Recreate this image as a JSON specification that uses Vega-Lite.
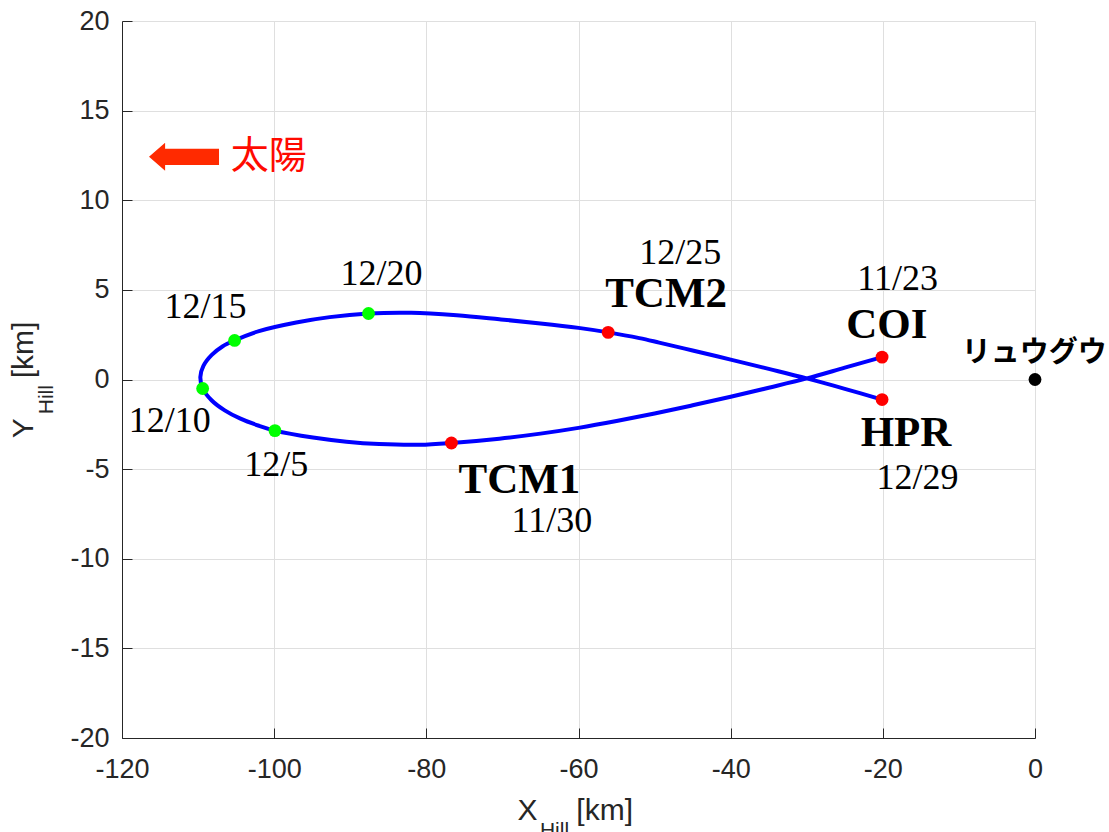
{
  "$schema": "https://vega.github.io/schema/vega-lite/v6.json",
  "width": 913,
  "height": 717,
  "autosize": {"type": "none"},
  "padding": {"left": 122, "top": 21, "right": 74, "bottom": 94},
  "background": "white",
  "config": {"view": {"stroke": null}},
  "datasets": {
    "traj": [
      {"i": 1, "x": -20.1, "y": 1.25},
      {"i": 2, "x": -25, "y": 0.66},
      {"i": 3, "x": -30, "y": 0.06},
      {"i": 4, "x": -35, "y": -0.46},
      {"i": 5, "x": -40, "y": -0.96},
      {"i": 6, "x": -45, "y": -1.44},
      {"i": 7, "x": -50, "y": -1.9},
      {"i": 8, "x": -55, "y": -2.32},
      {"i": 9, "x": -60, "y": -2.7},
      {"i": 10, "x": -65, "y": -3.02},
      {"i": 11, "x": -70.4, "y": -3.3},
      {"i": 12, "x": -76.7, "y": -3.54},
      {"i": 13, "x": -80.9, "y": -3.64},
      {"i": 14, "x": -86.2, "y": -3.6},
      {"i": 15, "x": -90.5, "y": -3.47},
      {"i": 16, "x": -94.9, "y": -3.24},
      {"i": 17, "x": -99.9, "y": -2.85},
      {"i": 18, "x": -102, "y": -2.58},
      {"i": 19, "x": -104.5, "y": -2.17},
      {"i": 20, "x": -106.5, "y": -1.72},
      {"i": 21, "x": -108.2, "y": -1.17},
      {"i": 22, "x": -109.4, "y": -0.5},
      {"i": 23, "x": -109.7, "y": 0.15},
      {"i": 24, "x": -109.3, "y": 0.76},
      {"i": 25, "x": -108.2, "y": 1.37},
      {"i": 26, "x": -106.8, "y": 1.84},
      {"i": 27, "x": -105.2, "y": 2.18},
      {"i": 28, "x": -102, "y": 2.7},
      {"i": 29, "x": -97.1, "y": 3.18},
      {"i": 30, "x": -92.7, "y": 3.48},
      {"i": 31, "x": -87.6, "y": 3.68},
      {"i": 32, "x": -82, "y": 3.72},
      {"i": 33, "x": -76, "y": 3.58},
      {"i": 34, "x": -70.4, "y": 3.36},
      {"i": 35, "x": -65, "y": 3.13},
      {"i": 36, "x": -60, "y": 2.88},
      {"i": 37, "x": -56.1, "y": 2.63},
      {"i": 38, "x": -52, "y": 2.31},
      {"i": 39, "x": -49.4, "y": 2.06},
      {"i": 40, "x": -45, "y": 1.62},
      {"i": 41, "x": -40, "y": 1.11},
      {"i": 42, "x": -35, "y": 0.59},
      {"i": 43, "x": -30, "y": 0.06},
      {"i": 44, "x": -25, "y": -0.52},
      {"i": 45, "x": -20.1, "y": -1.12}
    ],
    "events": [
      {"name": "COI", "kind": "maneuver", "x": -20.1, "y": 1.25},
      {"name": "TCM1", "kind": "maneuver", "x": -76.7, "y": -3.54},
      {"name": "12/5", "kind": "date", "x": -99.9, "y": -2.85},
      {"name": "12/10", "kind": "date", "x": -109.4, "y": -0.5},
      {"name": "12/15", "kind": "date", "x": -105.2, "y": 2.18},
      {"name": "12/20", "kind": "date", "x": -87.6, "y": 3.68},
      {"name": "TCM2", "kind": "maneuver", "x": -56.1, "y": 2.63},
      {"name": "HPR", "kind": "maneuver", "x": -20.1, "y": -1.12}
    ],
    "dates": [
      {"label": "12/15", "x": -109.03, "y": 4.07},
      {"label": "12/20", "x": -85.9, "y": 5.88},
      {"label": "12/10", "x": -113.74, "y": -2.31},
      {"label": "12/5", "x": -99.74, "y": -4.75},
      {"label": "11/30", "x": -63.5, "y": -7.9},
      {"label": "12/25", "x": -46.64, "y": 7.03},
      {"label": "11/23", "x": -18.05, "y": 5.59},
      {"label": "12/29", "x": -15.43, "y": -5.5}
    ],
    "names": [
      {"label": "TCM2", "x": -48.49, "y": 4.79},
      {"label": "COI", "x": -19.47, "y": 3.04},
      {"label": "HPR", "x": -16.95, "y": -2.98},
      {"label": "TCM1", "x": -67.77, "y": -5.59}
    ]
  },
  "encoding": {
    "x": {
      "field": "x", "type": "quantitative",
      "scale": {"domain": [-120, 0], "nice": false, "zero": false},
      "axis": {
        "title": null, "values": [-120, -100, -80, -60, -40, -20, 0],
        "labelExpr": "datum.value < 0 ? '-' + abs(datum.value) : '' + datum.value",
        "grid": true, "gridColor": "#dfdfdf", "gridWidth": 1,
        "domainColor": "#262626", "domainWidth": 1,
        "tickColor": "#262626", "tickSize": -10, "tickWidth": 1,
        "labelFont": "Liberation Sans", "labelFontSize": 27, "labelColor": "#262626",
        "labelPadding": 28, "labelFlush": false
      }
    },
    "y": {
      "field": "y", "type": "quantitative",
      "scale": {"domain": [-20, 20], "nice": false, "zero": false},
      "axis": {
        "title": null, "values": [-20, -15, -10, -5, 0, 5, 10, 15, 20],
        "labelExpr": "datum.value < 0 ? '-' + abs(datum.value) : '' + datum.value",
        "grid": true, "gridColor": "#dfdfdf", "gridWidth": 1,
        "domainColor": "#262626", "domainWidth": 1,
        "tickColor": "#262626", "tickSize": -10, "tickWidth": 1,
        "labelFont": "Liberation Sans", "labelFontSize": 27, "labelColor": "#262626",
        "labelPadding": 23, "labelFlush": false
      }
    }
  },
  "layer": [
    {
      "data": {"name": "traj"},
      "mark": {"type": "line", "color": "#0000ff", "strokeWidth": 4, "interpolate": "catmull-rom"},
      "encoding": {"order": {"field": "i", "type": "quantitative"}}
    },
    {
      "data": {"name": "events"},
      "mark": {"type": "point", "shape": "circle", "filled": true, "size": 165, "opacity": 1},
      "encoding": {
        "color": {"field": "kind", "type": "nominal", "scale": {"domain": ["maneuver", "date"], "range": ["#ff0000", "#00ff00"]}, "legend": null}
      }
    },
    {
      "data": {"values": [{"name": "リュウグウ", "x": 0, "y": 0}]},
      "mark": {"type": "point", "shape": "circle", "filled": true, "size": 165, "color": "#000000", "opacity": 1}
    },
    {
      "data": {"name": "dates"},
      "mark": {"type": "text", "font": "Liberation Serif", "fontSize": 36, "color": "#000000", "align": "center", "baseline": "middle"},
      "encoding": {"text": {"field": "label"}}
    },
    {
      "data": {"name": "names"},
      "mark": {"type": "text", "font": "Liberation Serif", "fontSize": 43, "fontWeight": "bold", "color": "#000000", "align": "center", "baseline": "middle"},
      "encoding": {"text": {"field": "label"}}
    },
    {
      "data": {"values": [{"label": "リュウグウ", "x": -0.1, "y": 1.49}]},
      "mark": {"type": "text", "font": "Noto Sans CJK JP", "fontSize": 29, "fontWeight": "bold", "color": "#000000", "align": "center", "baseline": "middle"},
      "encoding": {"text": {"field": "label"}}
    },
    {
      "data": {"values": [{"label": "太陽", "x": -100.71, "y": 12.42}]},
      "mark": {"type": "text", "font": "Noto Sans CJK JP", "fontSize": 38, "color": "#ff0a00", "align": "center", "baseline": "middle"},
      "encoding": {"text": {"field": "label"}}
    },
    {
      "data": {"values": [{"label": "sun direction", "x": -111.85, "y": 12.42}]},
      "mark": {"type": "point", "shape": "M -1 0 L -0.54 -0.4 L -0.54 -0.23 L 1 -0.23 L 1 0.23 L -0.54 0.23 L -0.54 0.4 Z", "size": 4900, "filled": true, "color": "#ff2a00", "opacity": 1, "strokeWidth": 0}
    },
    {
      "data": {"values": [{"label": "X", "x": -68.03, "y": -24.56}, {"label": "[km]", "x": -60.28, "y": -24.56}]},
      "mark": {"type": "text", "font": "Liberation Sans", "fontSize": 30, "color": "#262626", "align": "left", "baseline": "alphabetic"},
      "encoding": {"text": {"field": "label"}}
    },
    {
      "data": {"values": [{"label": "Hill", "x": -65.07, "y": -25.51}]},
      "mark": {"type": "text", "font": "Liberation Sans", "fontSize": 21, "color": "#262626", "align": "left", "baseline": "alphabetic"},
      "encoding": {"text": {"field": "label"}}
    },
    {
      "data": {"values": [{"label": "Y", "x": -131.7, "y": -3.28}, {"label": "[km]", "x": -131.7, "y": 0.07}]},
      "mark": {"type": "text", "font": "Liberation Sans", "fontSize": 30, "color": "#262626", "align": "left", "baseline": "alphabetic", "angle": 270},
      "encoding": {"text": {"field": "label"}}
    },
    {
      "data": {"values": [{"label": "Hill", "x": -129.13, "y": -1.94}]},
      "mark": {"type": "text", "font": "Liberation Sans", "fontSize": 21, "color": "#262626", "align": "left", "baseline": "alphabetic", "angle": 270},
      "encoding": {"text": {"field": "label"}}
    }
  ]
}
